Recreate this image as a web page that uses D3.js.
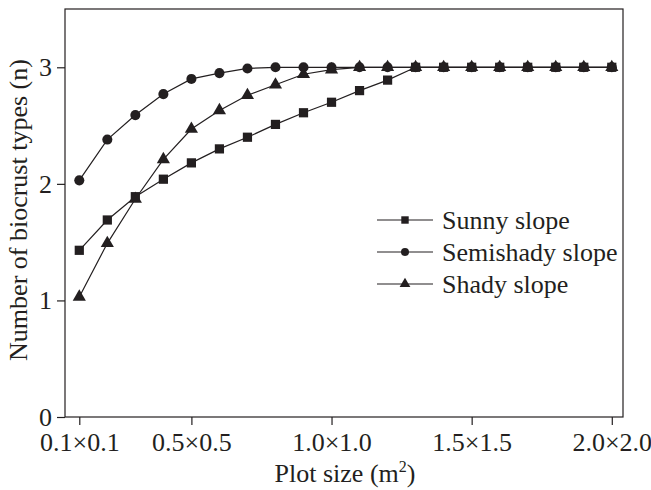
<!DOCTYPE html>
<html>
<head>
<meta charset="utf-8">
<script src="https://cdn.jsdelivr.net/npm/d3@7"></script>
<style>
  body { margin: 0; background: #fff; }
  text { font-family: "Liberation Serif", "Times New Roman", serif; fill: #231f20; }
</style>
</head>
<body>
<div id="chart"></div>
<script>
// plot side length (m), one point per size
const sizes = [0.1, 0.2, 0.3, 0.4, 0.5, 0.6, 0.7, 0.8, 0.9, 1.0,
               1.1, 1.2, 1.3, 1.4, 1.5, 1.6, 1.7, 1.8, 1.9, 2.0]

const sunny = [1.43, 1.69, 1.89, 2.04, 2.18, 2.30, 2.40, 2.51, 2.61, 2.70,
               2.80, 2.89, 3, 3, 3, 3, 3, 3, 3, 3]
const semishady = [2.03, 2.38, 2.59, 2.77, 2.90, 2.95, 2.99, 3, 3, 3,
                   3, 3, 3, 3, 3, 3, 3, 3, 3, 3]
const shady = [1.03, 1.49, 1.87, 2.21, 2.47, 2.63, 2.76, 2.85, 2.94, 2.98,
               3, 3, 3, 3, 3, 3, 3, 3, 3, 3]

const xTicks = [0.1, 0.5, 1.0, 1.5, 2.0]
const xTickLabels = ["0.1×0.1", "0.5×0.5", "1.0×1.0", "1.5×1.5", "2.0×2.0"]
const yTicks = [0, 1, 2, 3]

const width = 651
const height = 490
const margin = { top: 9, right: 28, bottom: 73, left: 65 }
const ink = "#231f20"
const fontSize = "26px"

const x = d3.scaleLinear()
  .domain([0.049, 2.04])
  .range([margin.left, width - margin.right])

const y = d3.scaleLinear()
  .domain([0, 3.5])
  .range([height - margin.bottom, margin.top])

const svg = d3.select("#chart")
  .append("svg")
  .attr("width", width)
  .attr("height", height)
  .attr("font-family", "Liberation Serif")

// frame
svg.append("rect")
  .attr("x", margin.left)
  .attr("y", margin.top)
  .attr("width", width - margin.left - margin.right)
  .attr("height", height - margin.top - margin.bottom)
  .attr("fill", "none")
  .attr("stroke", ink)
  .attr("stroke-width", 1.2)

const xAxis = svg.append("g")
  .attr("transform", `translate(0,${height - margin.bottom})`)
  .call(d3.axisBottom(x)
    .tickValues(xTicks)
    .tickFormat((d, i) => xTickLabels[i])
    .tickSizeOuter(0)
    .tickSize(8)
    .tickPadding(8))
xAxis.select(".domain").remove()
xAxis.selectAll("line").attr("stroke", ink).attr("stroke-width", 1.2)
xAxis.selectAll("text")
  .style("font-family", "Liberation Serif")
  .style("font-size", fontSize)
  .attr("fill", ink)

const yAxis = svg.append("g")
  .attr("transform", `translate(${margin.left},0)`)
  .call(d3.axisLeft(y)
    .tickValues(yTicks)
    .tickFormat(d3.format("d"))
    .tickSizeOuter(0)
    .tickSize(8)
    .tickPadding(5))
yAxis.select(".domain").remove()
yAxis.selectAll("line").attr("stroke", ink).attr("stroke-width", 1.2)
yAxis.selectAll("text")
  .style("font-family", "Liberation Serif")
  .style("font-size", fontSize)
  .attr("fill", ink)

// axis titles
const xTitle = svg.append("text")
  .attr("x", 345)
  .attr("y", 482)
  .attr("text-anchor", "middle")
  .attr("font-size", fontSize)
xTitle.append("tspan").text("Plot size (m")
xTitle.append("tspan").attr("font-size", "16px").attr("dy", -10).text("2")
xTitle.append("tspan").attr("dy", 10).text(")")

svg.append("text")
  .attr("transform", "rotate(-90)")
  .attr("x", -210)
  .attr("y", 27)
  .attr("text-anchor", "middle")
  .attr("font-size", fontSize)
  .text("Number of biocrust types (n)")

const series = [
  { name: "Semishady slope", values: semishady, shape: d3.symbolCircle, size: 80, legendSize: 50 },
  { name: "Shady slope", values: shady, shape: d3.symbolTriangle, size: 75, legendSize: 50 },
  { name: "Sunny slope", values: sunny, shape: d3.symbolSquare, size: 85, legendSize: 55 }
]

const line = d3.line()
  .x((d, i) => x(sizes[i]))
  .y(d => y(d))

series.forEach(s => {
  svg.append("path")
    .attr("d", line(s.values))
    .attr("fill", "none")
    .attr("stroke", ink)
    .attr("stroke-width", 1.2)
})

series.forEach(s => {
  svg.append("g")
    .selectAll("path")
    .data(s.values)
    .join("path")
    .attr("transform", (d, i) => `translate(${x(sizes[i])},${y(d)})`)
    .attr("d", d3.symbol().type(s.shape).size(s.size))
    .attr("fill", ink)
})

// legend
const legendOrder = ["Sunny slope", "Semishady slope", "Shady slope"]
const legend = svg.append("g").attr("transform", "translate(377,220)")
legendOrder.forEach((name, i) => {
  const s = series.find(d => d.name === name)
  const g = legend.append("g").attr("transform", `translate(0,${i * 32})`)
  g.append("line")
    .attr("x1", 0).attr("x2", 56)
    .attr("stroke", ink).attr("stroke-width", 1.2)
  g.append("path")
    .attr("transform", "translate(28,0)")
    .attr("d", d3.symbol().type(s.shape).size(s.legendSize))
    .attr("fill", ink)
  g.append("text")
    .attr("x", 65)
    .attr("y", 9)
    .attr("font-size", fontSize)
    .text(name)
})
</script>
</body>
</html>
